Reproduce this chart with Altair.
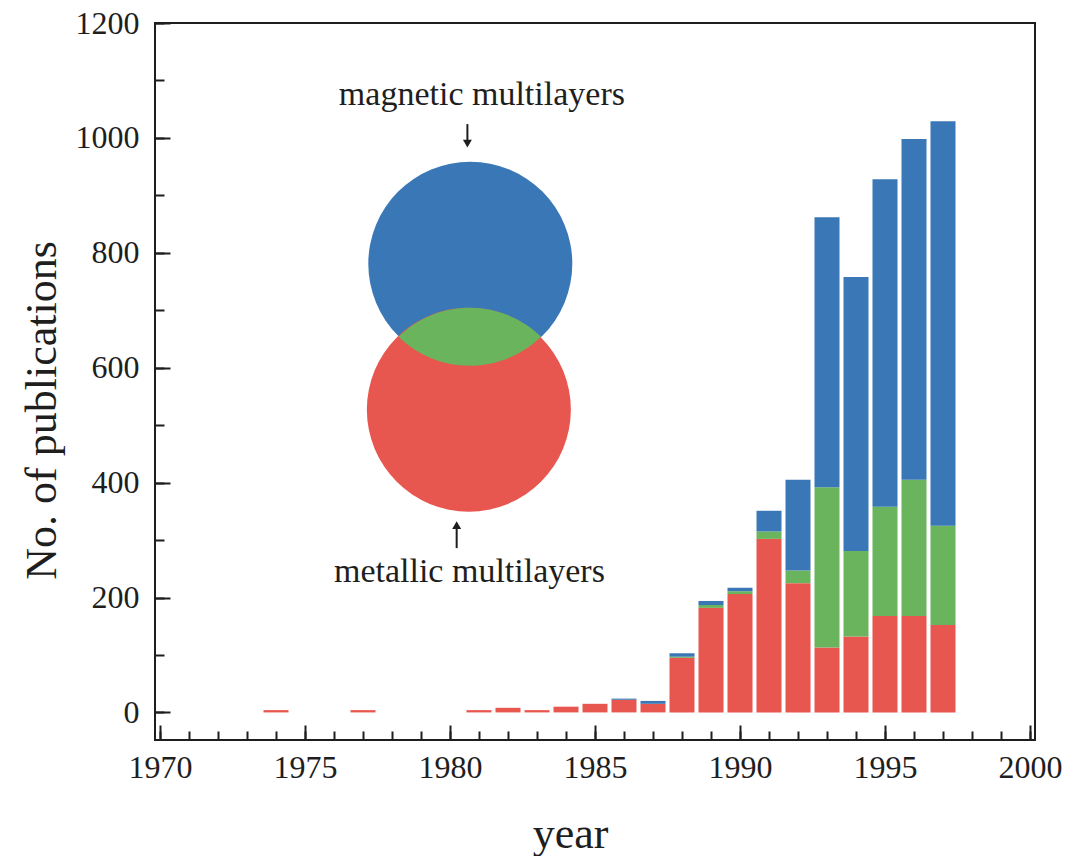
import altair as alt
import pandas as pd

# Publications per year, split by overlap of the two topics
years = [1974, 1977, 1981, 1982, 1983, 1984, 1985, 1986, 1987, 1988,
         1989, 1990, 1991, 1992, 1993, 1994, 1995, 1996, 1997]
metallic_only = [4, 4, 4, 8, 4, 10, 15, 22, 15, 95,
                 182, 206, 302, 225, 113, 132, 168, 168, 152]
both_topics = [0, 0, 0, 0, 0, 0, 0, 0, 0, 2,
               5, 5, 13, 22, 279, 149, 190, 237, 173]
magnetic_only = [0, 0, 0, 0, 0, 0, 0, 2, 5, 6,
                 7, 6, 36, 158, 470, 477, 570, 593, 704]

groups = ["metallic only", "both", "magnetic only"]
colors = ["#e8574f", "#6bb45e", "#3a77b6"]

# Venn inset (data coordinates: year, count)
venn_labels = ["magnetic multilayers", "metallic multilayers"]
venn_x = [1980.70, 1980.65]
venn_y = [781, 527]
venn_colors = ["#3a77b6", "#e8574f"]
lens_x = [1980.68]
lens_y = [654]

label_x = [1981.1, 1980.67]
label_y = [1057, 227]
arrow_x = [1980.6, 1980.23]
arrow_tail = [1024, 286]
arrow_tip = [990, 326]
arrow_shape = ["triangle-down", "triangle-up"]

FONT = "Liberation Serif"
INK = "#1e1e1e"
VENN_SIZE = 204 ** 2  # symbol side length squared (circle diameter 204 px)

rows = []
for i, yr in enumerate(years):
    for rank, (g, vals) in enumerate(zip(groups, [metallic_only, both_topics, magnetic_only])):
        if vals[i] > 0:
            rows.append({"year": yr, "group": g, "count": vals[i], "rank": rank})
bars_df = pd.DataFrame(rows)

xscale = alt.Scale(domain=[1970, 2000], nice=False, zero=False)
yscale = alt.Scale(domain=[-48, 1200], nice=False, zero=False)

major_x = alt.Axis(
    values=list(range(1970, 2001, 5)), orient="bottom", offset=-15, tickSize=15,
    tickWidth=2, tickColor=INK, domain=False, grid=False, format="d",
    labelFont=FONT, labelFontSize=32, labelColor=INK, labelPadding=12, labelFlush=False,
    title="year", titleFont=FONT, titleFontSize=44, titleFontWeight="normal",
    titleColor=INK, titleX=415, titleY=122, titleAlign="center", titleBaseline="alphabetic",
)
major_y = alt.Axis(
    values=list(range(0, 1201, 200)), orient="left", offset=-15, tickSize=15,
    tickWidth=2, tickColor=INK, domain=False, grid=False, format="d",
    labelFont=FONT, labelFontSize=32, labelColor=INK, labelPadding=16,
    title="No. of publications", titleFont=FONT, titleFontSize=44,
    titleFontWeight="normal", titleColor=INK, titleX=-115, titleY=387,
    titleAlign="center", titleBaseline="alphabetic", titleAngle=270,
)
minor_x = alt.Axis(
    values=list(range(1970, 2001)), orient="bottom", offset=-9, tickSize=9,
    tickWidth=2, tickColor=INK, domain=False, grid=False, labels=False, title=None,
)
minor_y = alt.Axis(
    values=list(range(0, 1201, 100)), orient="left", offset=-9, tickSize=9,
    tickWidth=2, tickColor=INK, domain=False, grid=False, labels=False, title=None,
)

bars = alt.Chart(bars_df).mark_bar(size=25).encode(
    x=alt.X("year:Q", scale=xscale, axis=major_x),
    y=alt.Y("count:Q", stack="zero", scale=yscale, axis=major_y),
    color=alt.Color("group:N", scale=alt.Scale(domain=groups, range=colors), legend=None),
    order=alt.Order("rank:Q"),
)

venn_df = pd.DataFrame({"set": venn_labels, "x": venn_x, "y": venn_y, "c": venn_colors})
circles = alt.Chart(venn_df).mark_point(
    shape="circle", filled=True, opacity=1, size=VENN_SIZE, strokeWidth=0
).encode(
    x=alt.X("x:Q", scale=xscale, axis=minor_x),
    y=alt.Y("y:Q", scale=yscale, axis=minor_y),
    color=alt.Color("c:N", scale=None),
)

# Overlap of the two circles (unit radius, centres 0.716 from the lens centre)
LENS = "M -0.698 0 A 1 1 0 0 1 0.698 0 A 1 1 0 0 1 -0.698 0 Z"
lens = alt.Chart(pd.DataFrame({"x": lens_x, "y": lens_y})).mark_point(
    shape=LENS, filled=True, opacity=1, size=VENN_SIZE, color="#6bb45e", strokeWidth=0
).encode(
    x=alt.X("x:Q", scale=xscale, axis=None),
    y=alt.Y("y:Q", scale=yscale, axis=None),
)

ann_df = pd.DataFrame({
    "label": venn_labels, "lx": label_x, "ly": label_y,
    "ax": arrow_x, "tail": arrow_tail, "tip": arrow_tip, "shape": arrow_shape,
})
texts = alt.Chart(ann_df).mark_text(
    font=FONT, fontSize=34, color=INK, align="center", baseline="alphabetic"
).encode(
    x=alt.X("lx:Q", scale=xscale, axis=None),
    y=alt.Y("ly:Q", scale=yscale, axis=None),
    text="label:N",
)
shafts = alt.Chart(ann_df).mark_rule(color=INK, strokeWidth=2).encode(
    x=alt.X("ax:Q", scale=xscale, axis=None),
    y=alt.Y("tail:Q", scale=yscale, axis=None),
    y2="tip:Q",
)
heads = alt.Chart(ann_df).mark_point(filled=True, opacity=1, size=80, color=INK).encode(
    x=alt.X("ax:Q", scale=xscale, axis=None),
    y=alt.Y("tip:Q", scale=yscale, axis=None),
    shape=alt.Shape("shape:N", scale=None),
)

chart = alt.layer(bars, circles, lens, texts, shafts, heads).resolve_axis(
    x="independent", y="independent"
).properties(
    width=880, height=717, autosize="none",
    padding={"left": 155, "top": 23, "right": 54, "bottom": 116},
    background="white",
).configure_view(stroke=INK, strokeWidth=2)

chart.save("out.html", embed_options={"renderer": "svg", "actions": False})
